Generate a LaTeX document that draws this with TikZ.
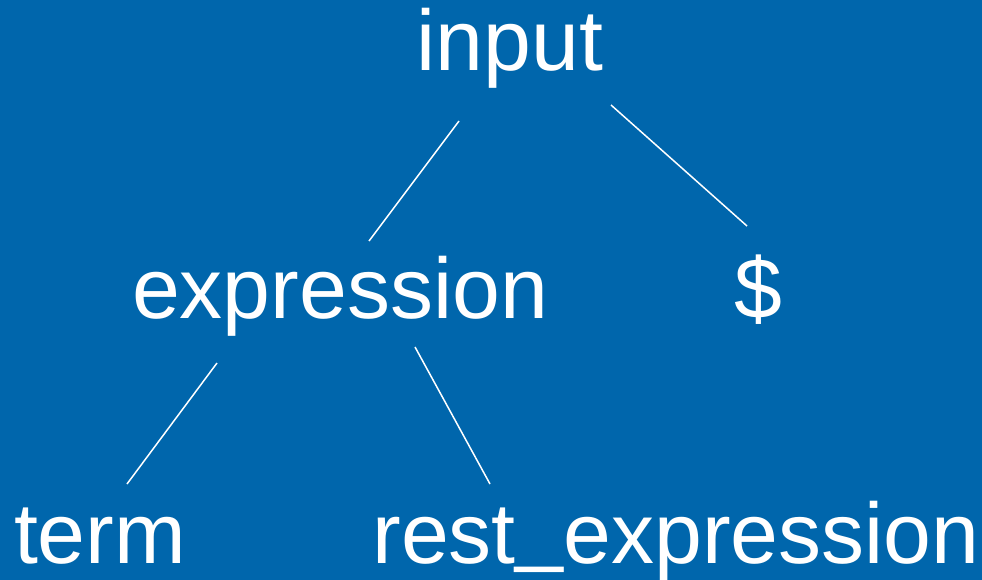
\documentclass[tikz,border=0pt]{standalone}
\usepackage{fontspec}
\setmainfont{Liberation Sans}
\definecolor{bgblue}{RGB}{0,102,172}
\begin{document}
\begin{tikzpicture}[x=1pt,y=-1pt,
  lbl/.style={text=white,font=\fontsize{86}{90}\selectfont,inner sep=0pt,anchor=base},
  edge/.style={draw=white,line width=1.5pt}]
\fill[bgblue] (0,0) rectangle (982,580);
\useasboundingbox (0,0) rectangle (982,580);
\node[lbl] (input) at (510,71) {input};
\node[lbl] (expression) at (340,318) {expression};
\node[lbl] (dollar) at (758,318) {\$};
\node[lbl] (term) at (100,563) {term};
\node[lbl] (rest) at (676,563) {rest\raisebox{8pt}{\_}expression};
\coordinate (a1) at (459,121);
\coordinate (a2) at (369,241);
\coordinate (b1) at (611,105);
\coordinate (b2) at (747,226);
\coordinate (c1) at (217,363);
\coordinate (c2) at (127,484);
\coordinate (d1) at (415,347);
\coordinate (d2) at (490,484);
\draw[edge] (a1) -- (a2);
\draw[edge] (b1) -- (b2);
\draw[edge] (c1) -- (c2);
\draw[edge] (d1) -- (d2);
\end{tikzpicture}
\end{document}
